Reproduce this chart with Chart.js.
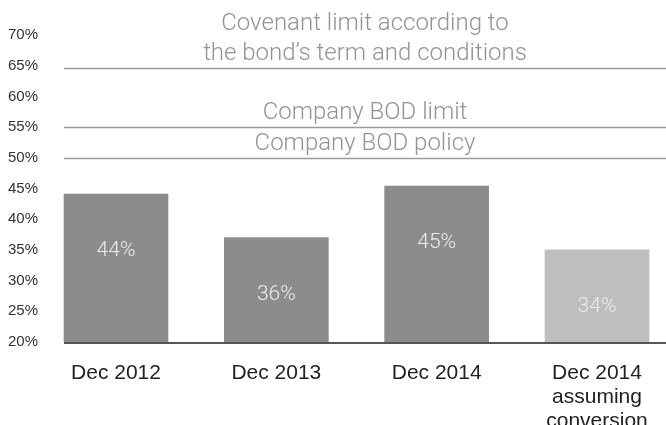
<!DOCTYPE html>
<html lang="en">
  <head>
    <title>Loan to value</title>
    <style>
      body { margin: 0; background: #fff; }
      #wrap { width: 666px; height: 425px; }
    </style>
  </head>
  <body>
    <div id="wrap"><canvas id="ltvCanvas"></canvas></div>
    <script src="https://cdn.jsdelivr.net/npm/chart.js"></script>
    <script>
      let categories = [
        ["Dec 2012"],
        ["Dec 2013"],
        ["Dec 2014"],
        ["Dec 2014", "assuming", "conversion"],
      ];
      let ratios = [44.1, 37.0, 45.4, 35.0];
      let ratioLabels = ["44%", "36%", "45%", "34%"];
      let limitValues = [64.7, 55, 50];
      let limitTexts = [
        ["Covenant limit according to", "the bond\u2019s term and conditions"],
        ["Company BOD limit"],
        ["Company BOD policy"],
      ];

      Chart.defaults.font.family = "'Liberation Sans', Arial, sans-serif";
      Chart.defaults.plugins.legend.display = false;
      Chart.defaults.plugins.tooltip.enabled = false;

      // limit lines, their captions, the base line and the values inside the bars
      let overlay = {
        id: "overlay",
        afterDatasetsDraw: function (chart) {
          let ctx = chart.ctx;
          let y = chart.scales.y;
          let bars = chart.getDatasetMeta(0).data;
          let left = bars[0].x - bars[0].width / 2;
          let right = chart.width;
          let mid = (left + right) / 2;
          ctx.save();
          ctx.textAlign = "center";
          ctx.textBaseline = "middle";
          limitValues.forEach(function (v, i) {
            let py = Math.round(y.getPixelForValue(v)) + 0.5;
            ctx.strokeStyle = "#9b9b9b";
            ctx.lineWidth = 1.5;
            ctx.beginPath();
            ctx.moveTo(left, py);
            ctx.lineTo(right, py);
            ctx.stroke();
            ctx.fillStyle = "#939393";
            ctx.font = "300 24px Roboto";
            let lines = limitTexts[i];
            lines.forEach(function (t, j) {
              ctx.fillText(t, mid, py - 15 - (lines.length - 1 - j) * 30);
            });
          });
          let base = y.getPixelForValue(20) + 1;
          ctx.strokeStyle = "#555555";
          ctx.lineWidth = 2;
          ctx.beginPath();
          ctx.moveTo(left, base);
          ctx.lineTo(right, base);
          ctx.stroke();
          ctx.fillStyle = "#ececec";
          ctx.font = "300 21px Roboto";
          bars.forEach(function (b, i) {
            ctx.fillText(ratioLabels[i], b.x, b.y + 57);
          });
          ctx.restore();
        },
      };

      new Chart(document.getElementById("ltvCanvas"), {
        type: "bar",
        data: {
          labels: categories,
          datasets: [
            {
              data: ratios,
              base: 20,
              backgroundColor: function (c) {
                return c.dataIndex == 3 ? "#bdbebd" : "#8b8c8b";
              },
              barThickness: 104,
              clip: false,
            },
          ],
        },
        options: {
          animation: false,
          responsive: true,
          maintainAspectRatio: false,
          layout: { padding: { left: 8, right: 69, top: 35, bottom: 0 } },
          scales: {
            x: {
              offset: false,
              grid: { display: false },
              border: { display: false },
              ticks: {
                color: "#222222",
                font: { size: 21, lineHeight: 1.15 },
                padding: 11,
                maxRotation: 0,
                autoSkip: false,
              },
              afterFit: function (scale) {
                scale.height = 83;
              },
            },
            y: {
              min: 20,
              max: 70,
              grid: { display: false },
              border: { display: false },
              ticks: {
                stepSize: 5,
                color: "#333333",
                font: { size: 15 },
                crossAlign: "far",
                callback: function (value) {
                  return value + "%";
                },
              },
              afterFit: function (scale) {
                scale.width = 108;
              },
            },
          },
        },
        plugins: [overlay],
      });
    </script>
  </body>
</html>
